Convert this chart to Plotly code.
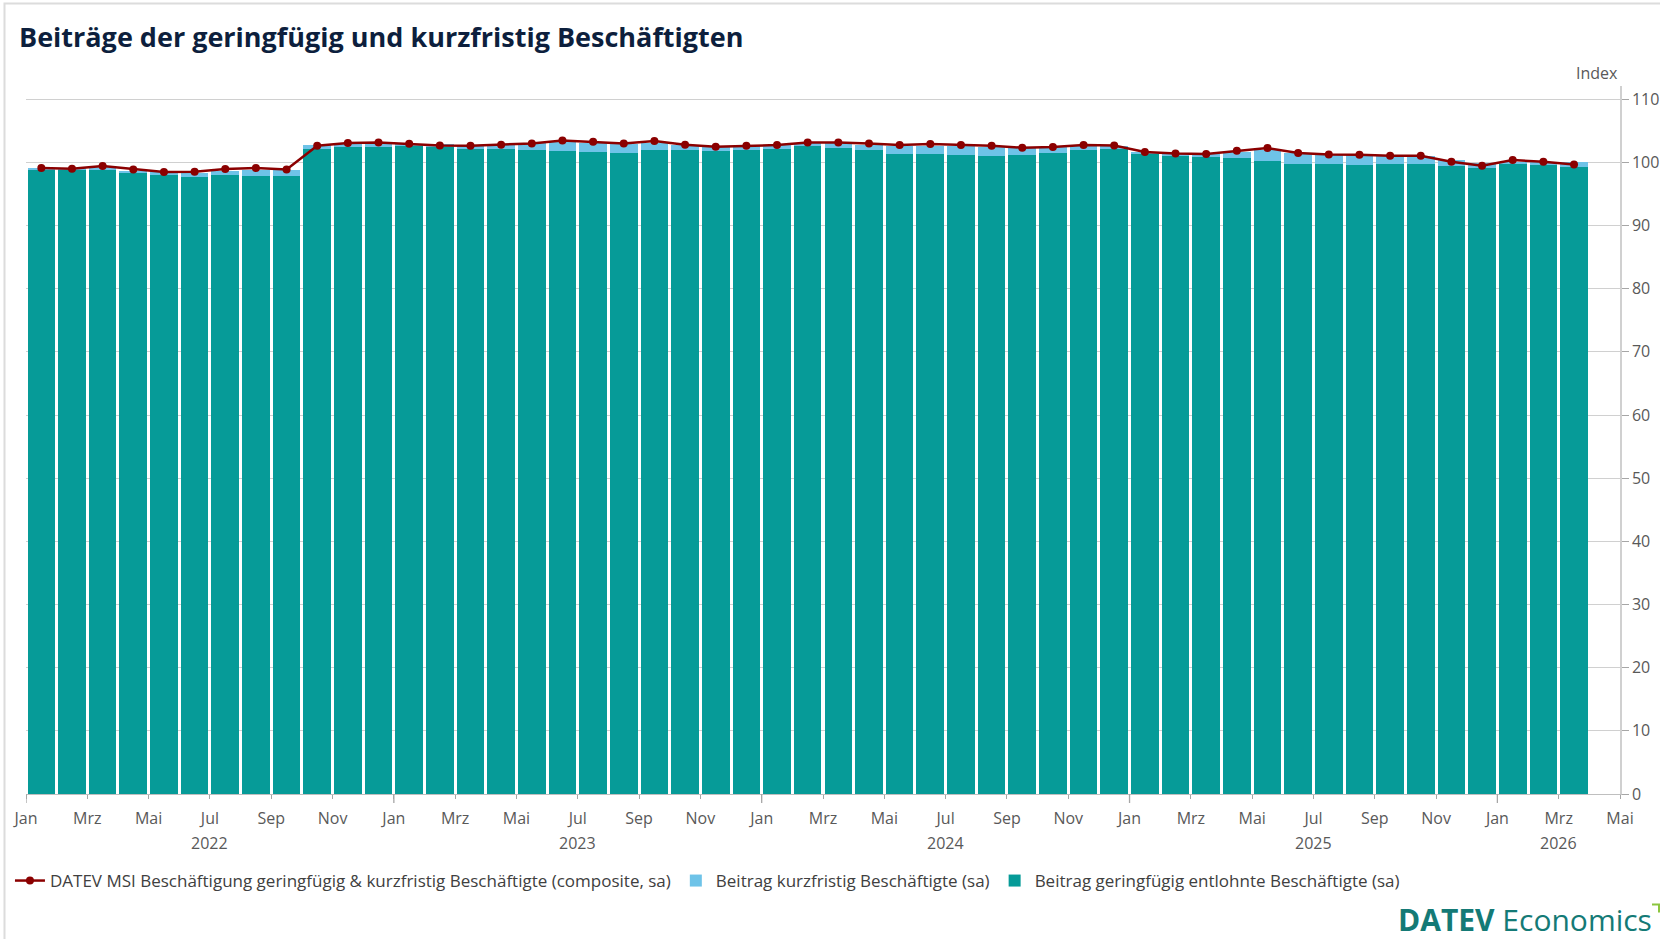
import plotly.graph_objects as go

# Monthly series, Jan 2022 .. Mar 2026
months = ["Jan", "Feb", "Mrz", "Apr", "Mai", "Jun", "Jul", "Aug", "Sep", "Okt", "Nov", "Dez"]
years = [2022, 2023, 2024, 2025, 2026]

composite = [99.10, 99.00, 99.42, 98.89, 98.47, 98.52, 98.95, 99.10, 98.89, 102.64, 103.06, 103.16,
             102.95, 102.69, 102.64, 102.80, 103.01, 103.48, 103.27, 103.01, 103.38, 102.80, 102.48, 102.64,
             102.74, 103.16, 103.16, 103.01, 102.74, 102.90, 102.74, 102.64, 102.32, 102.43, 102.74, 102.69,
             101.64, 101.42, 101.32, 101.85, 102.27, 101.48, 101.27, 101.21, 101.05, 101.05, 100.11, 99.47,
             100.37, 100.11, 99.68]

geringfuegig = [98.73, 98.73, 98.90, 98.36, 98.00, 97.70, 98.00, 97.84, 97.84, 102.10, 102.40, 102.50,
                102.60, 102.37, 102.20, 102.20, 102.00, 101.85, 101.69, 101.53, 102.00, 102.00, 101.85, 101.90,
                102.20, 102.53, 102.32, 102.00, 101.37, 101.37, 101.21, 101.05, 101.11, 101.42, 102.00, 102.11,
                101.27, 101.00, 100.84, 100.74, 100.26, 99.79, 99.79, 99.53, 99.68, 99.79, 99.47, 99.16,
                99.79, 99.58, 99.26]

kurzfristig = [0.43, 0.32, 0.31, 0.27, 0.42, 0.66, 0.68, 0.95, 0.95, 0.64, 0.50, 0.40,
               0.25, 0.48, 0.54, 0.65, 1.06, 1.31, 1.31, 1.32, 1.06, 0.74, 0.68, 0.74,
               0.54, 0.47, 0.68, 0.74, 1.27, 1.27, 1.32, 1.38, 1.11, 0.95, 0.64, 0.53,
               0.42, 0.48, 0.53, 0.95, 1.64, 1.63, 1.48, 1.63, 1.37, 1.26, 0.95, 0.73,
               0.21, 0.42, 0.74]

y_ticks = [0, 10, 20, 30, 40, 50, 60, 70, 80, 90, 100, 110]

n = len(composite)
n_slots = 52  # axis runs to the start of May 2026
xc = [i + 0.5 for i in range(n)]
tick_pos = list(range(0, n_slots + 1, 2))
tick_txt = [months[p % 12] for p in tick_pos]

TEAL = "#069b98"
LIGHT = "#6ec3e8"
RED = "#8b0000"
FONT = "Open Sans"

fig = go.Figure()
fig.add_trace(go.Bar(
    x=xc, y=geringfuegig, width=0.9, marker=dict(color=TEAL, line=dict(width=0)),
    name="Beitrag geringfügig entlohnte Beschäftigte (sa)", legendrank=3,
))
fig.add_trace(go.Bar(
    x=xc, y=kurzfristig, width=0.9, marker=dict(color=LIGHT, line=dict(width=0)),
    name="Beitrag kurzfristig Beschäftigte (sa)", legendrank=2,
))
fig.add_trace(go.Scatter(
    x=xc, y=composite, mode="lines+markers",
    line=dict(color=RED, width=2.5), marker=dict(color=RED, size=8),
    name="DATEV MSI Beschäftigung geringfügig & kurzfristig Beschäftigte (composite, sa)",
    legendrank=1,
))

L, R, T, B = 26, 40, 86, 144.5
W, H = 1660, 939
pw, ph = W - L - R, H - T - B

def px(xp):
    return (xp - L) / pw

def py(yp):
    return (H - B - yp) / ph

shapes = []
# longer tick marks at each January
for p in range(0, n_slots, 12):
    shapes.append(dict(type="line", xref="x", yref="paper", x0=p, x1=p, y0=0, y1=-9 / ph,
                       line=dict(color="#a6a6a6", width=1.3)))
# outer frame
shapes.append(dict(type="rect", xref="paper", yref="paper",
                   x0=px(4.5), x1=px(W + 20), y0=py(H + 20), y1=py(3.5),
                   line=dict(color="#dcdcdc", width=2), fillcolor="rgba(0,0,0,0)", layer="below"))
# green corner mark of the logo
shapes.append(dict(type="path", xref="paper", yref="paper",
                   path=f"M {px(1652)} {py(905)} L {px(1659)} {py(905)} L {px(1659)} {py(913)}",
                   line=dict(color="#8cc63f", width=2)))

annotations = []
year_pos = [6, 18, 30, 42, 50]
for yr, p in zip(years, year_pos):
    annotations.append(dict(x=p, xref="x", y=py(844), yref="paper", text=str(yr), showarrow=False,
                            xanchor="center", yanchor="middle",
                            font=dict(family=FONT, size=16, color="#595959")))
annotations.append(dict(x=1, xref="paper", y=py(73), yref="paper", text="Index", showarrow=False,
                        xanchor="right", yanchor="middle",
                        font=dict(family=FONT, size=16, color="#595959")))
annotations.append(dict(x=px(1396), xref="paper", y=py(920), yref="paper",
                        text="<b>DATEV</b> Economics", showarrow=False,
                        xanchor="left", yanchor="middle",
                        font=dict(family=FONT, size=30, color="#147a76")))

fig.update_layout(
    width=W, height=H,
    margin=dict(l=L, r=R, t=T, b=B, autoexpand=False),
    paper_bgcolor="white", plot_bgcolor="white",
    barmode="stack",
    font=dict(family=FONT, size=16, color="#595959"),
    title=dict(text="<b>Beiträge der geringfügig und kurzfristig Beschäftigten</b>",
               x=19 / W, xref="container", xanchor="left",
               y=1 - 38 / H, yref="container", yanchor="middle",
               font=dict(family=FONT, size=27, color="#0d1f3d")),
    xaxis=dict(range=[0, n_slots], tickmode="array", tickvals=tick_pos, ticktext=tick_txt,
               ticks="outside", ticklen=4, tickcolor="#a6a6a6", tickwidth=1.3,
               showgrid=False, zeroline=False, showline=True, linecolor="#bfbfbf", linewidth=1.3,
               tickfont=dict(family=FONT, size=16, color="#595959"), ticklabelstandoff=6,
               automargin=False, fixedrange=True),
    yaxis=dict(range=[0, 112.1], side="right", tickmode="array", tickvals=y_ticks,
               ticks="outside", ticklen=7, tickcolor="#a6a6a6", tickwidth=1.3,
               showgrid=True, gridcolor="#d0d0d0", gridwidth=1.3, zeroline=False,
               showline=True, linecolor="#d0d0d0", linewidth=1.5,
               tickfont=dict(family=FONT, size=16, color="#595959"),
               automargin=False, fixedrange=True),
    legend=dict(orientation="h", xref="container", yref="container",
                x=0.006, xanchor="left", y=1 - 881 / H, yanchor="middle",
                traceorder="normal",
                font=dict(family=FONT, size=17, color="#404040"),
                itemwidth=30, tracegroupgap=0, bgcolor="rgba(0,0,0,0)"),
    shapes=shapes,
    annotations=annotations,
    showlegend=True,
)

fig.write_html("out.html")
